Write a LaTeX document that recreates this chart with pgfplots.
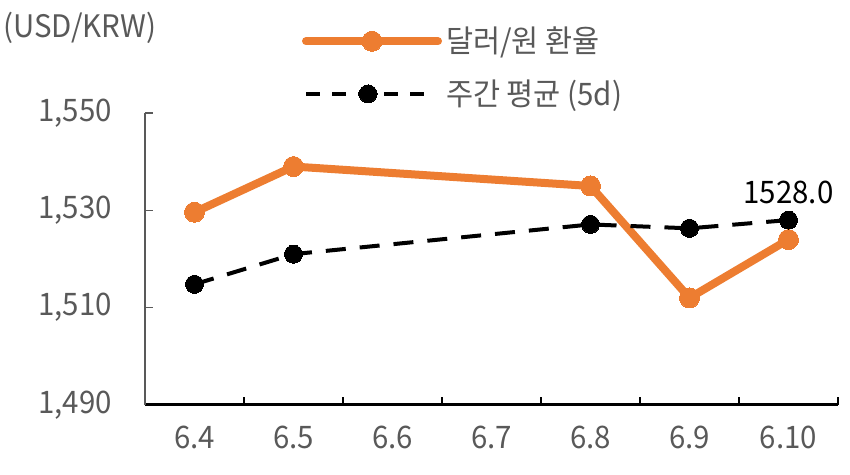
\documentclass[border=0pt]{standalone}
\usepackage{fontspec}
\setmainfont[FakeStretch=0.95]{Noto Sans CJK KR}
\usepackage{pgfplots}
\pgfplotsset{compat=1.18}
\definecolor{orng}{HTML}{ED7D31}
\definecolor{txtgray}{HTML}{595959}
\pgfplotsset{
  orangeleg/.style={legend image code/.code={\draw[##1, mark repeat=2, mark phase=2] plot coordinates {(0pt,0pt)(33pt,0pt)(66pt,0pt)};}},
  blackleg/.style={legend image code/.code={\draw[##1, dash pattern=on 7pt off 6pt, mark repeat=2, mark phase=2] plot coordinates {(0pt,0pt)(31pt,0pt)(62pt,0pt)};}},
}
\begin{document}
\begin{tikzpicture}
\useasboundingbox (-72.5pt,-35pt) rectangle (352.5pt,202.5pt);
\begin{axis}[
  scale only axis, width=346.5pt, height=146pt,
  xmin=-0.5, xmax=6.5, ymin=1490, ymax=1550,
  xtick={0,...,6},
  xticklabels={6.4,6.5,6.6,6.7,6.8,6.9,6.10},
  major x tick style={draw=none},
  minor xtick={-0.5,0.5,...,6.5},
  minor x tick style={black, line width=1.2pt},
  minor tick length=4pt,
  ytick={1490,1510,1530,1550},
  major tick length=4pt,
  y tick style={txtgray, line width=0.7pt},
  tick align=inside,
  axis x line*=bottom, axis y line*=left,
  x axis line style={black, line width=1.5pt},
  y axis line style={txtgray, line width=0.7pt},
  /pgf/number format/assume math mode=true,
  /pgf/number format/1000 sep={,},
  tick label style={font=\fontsize{15.5}{18}\selectfont, text=txtgray},
  yticklabel style={xshift=-13pt},
  xticklabel style={yshift=-7pt},
  clip=false,
  legend style={at={(rel axis cs:0.226,1.31)}, anchor=north west, draw=none, fill=none,
    font=\fontsize{15.5}{18}\selectfont, text=txtgray, row sep=8pt, inner sep=0pt},
  legend cell align=left,
]
\addplot[orng, line width=4pt, line cap=round, mark=*, mark size=5pt, mark options={solid, fill=orng, draw=orng, line width=0pt}, orangeleg]
  coordinates {(0,1529.6) (1,1539.0) (4,1535.0) (5,1512.0) (6,1524.0)};
\addlegendentry{달러/원 환율}
\addplot[black, line width=2pt, dash pattern=on 10pt off 7pt, mark=*, mark size=4.5pt, mark options={solid, fill=black, line width=0pt}, blackleg]
  coordinates {(0,1514.8) (1,1521.0) (4,1527.1) (5,1526.3) (6,1528.0)};
\addlegendentry{주간 평균 (5d)}
\node[anchor=south, font=\fontsize{15.5}{18}\selectfont, text=black, inner sep=0pt] at (axis cs:6,1528.0) [yshift=8pt] {1528.0};
\node[font=\fontsize{15.5}{18}\selectfont, text=txtgray] at (rel axis cs:-0.094,1.291) {(USD/KRW)};
\end{axis}
\end{tikzpicture}
\end{document}
